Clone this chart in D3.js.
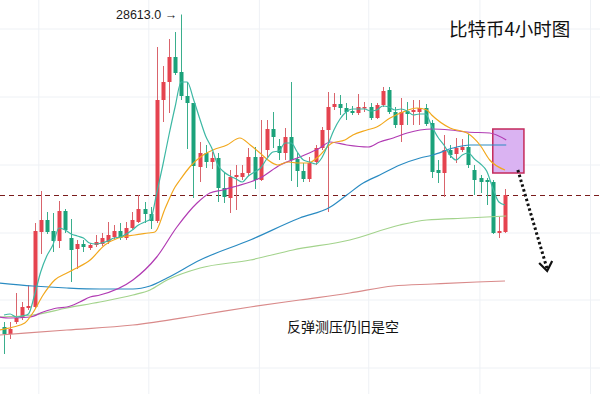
<!DOCTYPE html>
<html>
<head>
<meta charset="utf-8">
<script src="https://cdn.jsdelivr.net/npm/d3@7"></script>
<style>
  html, body { margin: 0; padding: 0; background: #fff; }
  svg { display: block; }
</style>
</head>
<body>
<script>
// 4h candles (price units)
var opens = [26738,26696,26768,26792,26852,26858,27308,27380,27314,27254,
  27434,27272,27206,27236,27212,27230,27236,27248,27278,27314,
  27272,27332,27368,27446,27416,27374,28100,28208,28358,28268,
  28124,28082,27698,27782,27728,27752,27572,27512,27638,27638,
  27662,27758,27620,27800,27926,27824,27782,27878,27746,27674,
  27626,27728,27812,27920,28058,28076,28052,28034,28022,28052,
  28058,27992,28070,28160,28028,27950,28034,28028,28028,28052,
  27962,27680,27662,27800,27776,27800,27818,27680,27632,27620,
  27608,27302,27308];
var closes = [26696,26726,26792,26858,26864,27314,27380,27308,27254,27434,
  27320,27200,27236,27218,27230,27248,27272,27290,27314,27272,
  27332,27380,27446,27416,27374,28100,28208,28358,28262,28124,
  28082,27704,27782,27728,27752,27572,27518,27638,27650,27662,
  27758,27620,27758,27926,27878,27782,27878,27740,27674,27626,
  27722,27812,27920,28058,28076,28052,28028,28022,28058,28058,
  27992,28070,28154,28028,27950,28028,28016,28040,28052,27956,
  27668,27662,27800,27770,27812,27818,27710,27620,27608,27608,
  27302,27314,27530];
var highs = [26768,26768,26942,26888,26990,27362,27554,27428,27422,27494,
  27446,27386,27260,27260,27242,27290,27302,27368,27350,27362,
  27368,27428,27530,27488,27458,28418,28304,28466,28508,28613,
  28208,28082,27848,27830,27788,27782,27662,27680,27710,27710,
  27812,27818,27980,27980,28028,27866,27932,28208,27782,27722,
  27758,27830,27938,28148,28142,28130,28082,28064,28136,28088,
  28082,28082,28178,28178,28058,28112,28088,28100,28100,28076,
  27980,27740,27890,27830,27872,27866,27896,27710,27650,27632,
  27620,27398,27566];
var lows = [26576,26666,26756,26780,26840,26852,27176,27296,27188,27212,
  27302,27008,27086,27188,27200,27218,27224,27236,27266,27260,
  27260,27326,27362,27362,27326,27362,27968,28022,28250,28100,
  27806,27512,27608,27692,27686,27488,27482,27422,27440,27620,
  27644,27566,27614,27758,27812,27740,27740,27614,27578,27608,
  27608,27710,27800,27428,28040,28010,27980,28010,28010,28028,
  27980,27986,28058,28016,27932,27848,27950,27950,27950,27944,
  27632,27602,27518,27752,27722,27788,27692,27530,27542,27470,
  27296,27272,27302];

// fast moving average, one value per candle
var ma5 = [26810,26816,26798,26804,26816,26930,27068,27164,27230,27332,
  27320,27296,27284,27272,27242,27236,27242,27254,27272,27278,
  27296,27320,27350,27368,27386,27542,27710,27890,28058,28208,
  28208,28106,27992,27884,27812,27710,27668,27644,27626,27608,
  27644,27668,27692,27746,27788,27794,27842,27842,27788,27740,
  27728,27716,27752,27830,27920,27986,28028,28046,28046,28046,
  28034,28040,28064,28058,28040,28046,28034,28010,28016,28016,
  27944,27878,27830,27770,27740,27770,27782,27746,27716,27674,
  27572,27488,27470];

// slower averages, [candle index, price]
var maOrange = [[-0.7,26720],[1.5,26738],[3.4,26762],[4.7,26822],[6.4,26930],[8.3,27020],
  [10.3,27062],[11.9,27092],[14.1,27140],[16.5,27230],[18.7,27272],[21.4,27290],
  [23.6,27302],[24.7,27308],[26.4,27452],[28,27578],[28.8,27620],[30.4,27698],
  [32.6,27770],[34.2,27800],[36.5,27830],[38.6,27872],[40.3,27830],[41.9,27782],
  [43.2,27740],[44.8,27710],[46.5,27728],[48.1,27722],[49.8,27722],[51.4,27758],
  [53.7,27842],[55.8,27860],[57.1,27890],[59.4,27920],[61,27938],[63.2,27992],
  [65.3,28028],[67.6,28052],[69.2,28040],[70,28010],[73,27932],[75.8,27902],
  [77.9,27830],[79.5,27740],[82,27680]];
var maPurple = [[-0.7,26798],[1,26792],[4.3,26798],[6.4,26828],[8.7,26852],[10.3,26858],
  [12.4,26888],[14.1,26918],[15.7,26930],[21.1,27020],[25,27158],[28.3,27338],
  [31.6,27482],[33.7,27542],[35.8,27560],[38.1,27584],[40.3,27608],[41.9,27632],
  [45.2,27710],[48.4,27758],[51.7,27812],[53.4,27848],[56.1,27830],[59.6,27818],
  [61.5,27848],[63.7,27872],[66,27902],[68.1,27920],[70.2,27926],[73,27920],
  [75.8,27908],[79.5,27902],[82.2,27860]];
var maBlue = [[-0.7,27002],[4.7,26984],[10.3,26972],[15.7,26966],[21.1,26966],[23.9,26984],
  [26.7,27032],[32.1,27140],[40.3,27260],[48.4,27392],[53.4,27458],[56.1,27530],
  [58.8,27602],[61.5,27650],[64.8,27710],[68.1,27752],[70.2,27770],[73.5,27812],
  [76.3,27830],[79.1,27830],[82.2,27830]];
var maLightGreen = [[-0.7,26798],[4.7,26810],[10.3,26852],[15.7,26888],[21.1,26930],
  [23.9,26960],[26.7,27020],[32.1,27092],[40.3,27140],[47.3,27200],[56.6,27260],
  [64.8,27350],[69.2,27380],[75.8,27392],[82.2,27404]];
var maPink = [[-0.7,26690],[10.3,26720],[21.1,26750],[32.1,26810],[40.3,26858],
  [48.4,26900],[56.6,26942],[63.7,26984],[70.2,26996],[77.4,27008],[82,27014]];

// grid positions (candle index / price)
var gridIdx = [5.7, 23.7, 41.8, 59.7, 77.9, 96];
var gridPrices = [28526, 28118, 27710, 27302, 26900, 26492];

// resistance box and projected move
var zone = { from: 80, to: 85.1, top: 27926, bottom: 27662 };
var arrowFrom = [84.1, 27680],
    arrowTo = [88.9, 27074];

var title = "比特币4小时图",
    note = "反弹测压仍旧是空";

var width = 600, height = 394;

var svg = d3.select("body").append("svg")
    .attr("width", width)
    .attr("height", height);

var x = d3.scaleLinear().domain([0, 82]).range([4, 505]);
var y = d3.scaleLinear().domain([26336, 28700]).range([height, 0]);

// grid
svg.append("g").selectAll("line").data(gridIdx).enter().append("line")
    .attr("x1", d => x(d)).attr("x2", d => x(d))
    .attr("y1", 0).attr("y2", height)
    .attr("stroke", "#eef1f5").attr("stroke-width", 1);
svg.append("g").selectAll("line").data(gridPrices).enter().append("line")
    .attr("x1", 0).attr("x2", width)
    .attr("y1", d => y(d)).attr("y2", d => y(d))
    .attr("stroke", "#eef1f5").attr("stroke-width", 1);

// last price dashed line
var last = closes[closes.length - 1];
svg.append("line")
    .attr("x1", 0).attr("x2", width)
    .attr("y1", Math.round(y(last)) + 0.5).attr("y2", Math.round(y(last)) + 0.5)
    .attr("stroke", "#7a1c1c").attr("stroke-width", 1.1)
    .attr("stroke-dasharray", "5,4");

// resistance box
svg.append("rect")
    .attr("x", x(zone.from)).attr("y", y(zone.top))
    .attr("width", x(zone.to) - x(zone.from))
    .attr("height", y(zone.bottom) - y(zone.top))
    .attr("fill", "#dab3f2")
    .attr("stroke", "#c42a5c").attr("stroke-width", 1.5);

// candles
var up = "#e5434f", down = "#1ba27a";
var candles = svg.append("g").selectAll("g").data(d3.range(opens.length)).enter().append("g");
candles.append("line")
    .attr("x1", i => Math.round(x(i)) + 0.5).attr("x2", i => Math.round(x(i)) + 0.5)
    .attr("y1", i => y(highs[i])).attr("y2", i => y(lows[i]))
    .attr("stroke", i => closes[i] >= opens[i] ? "#d9646c" : "#3aae8c")
    .attr("stroke-width", 1);
candles.append("rect")
    .attr("x", i => Math.round(x(i)) - 1.5)
    .attr("width", 4)
    .attr("y", i => y(Math.max(opens[i], closes[i])))
    .attr("height", i => Math.max(1.5, Math.abs(y(opens[i]) - y(closes[i]))))
    .attr("fill", i => closes[i] >= opens[i] ? up : down);

// moving averages
var smooth = d3.line()
    .x(d => x(d[0])).y(d => y(d[1]))
    .curve(d3.curveMonotoneX);

function drawLine(data, color, w) {
    svg.append("path")
        .datum(data)
        .attr("d", smooth)
        .attr("fill", "none")
        .attr("stroke", color)
        .attr("stroke-width", w);
}

drawLine(maPink, "#d98a8a", 1.2);
drawLine(maLightGreen, "#a3d38c", 1.2);
drawLine(maBlue, "#2a8bc2", 1.2);
drawLine(maPurple, "#b13bb3", 1.2);
drawLine(maOrange, "#f2a81d", 1.2);
drawLine(ma5.map((v, i) => [i, v]), "#3db8a4", 1.2);

// max label
var hiIdx = d3.maxIndex(highs);
svg.append("text")
    .attr("x", x(hiIdx) - 4)
    .attr("y", y(highs[hiIdx]) + 4)
    .attr("text-anchor", "end")
    .attr("font-family", "Liberation Sans, Arial, sans-serif")
    .attr("font-size", 12.5)
    .attr("fill", "#1b1b1b")
    .text(d3.format(".1f")(highs[hiIdx]) + " →");

// dotted projection arrow
svg.append("line")
    .attr("x1", x(arrowFrom[0])).attr("y1", y(arrowFrom[1]))
    .attr("x2", x(arrowTo[0])).attr("y2", y(arrowTo[1]) - 2)
    .attr("stroke", "#111").attr("stroke-width", 3)
    .attr("stroke-dasharray", "2.5,2.5");
var tx = x(arrowTo[0]), ty = y(arrowTo[1]);
svg.append("path")
    .attr("d", "M" + (tx - 8) + "," + (ty - 8) + "L" + tx + "," + ty + "L" + (tx + 5) + "," + (ty - 10))
    .attr("fill", "none")
    .attr("stroke", "#111").attr("stroke-width", 2.2);

// texts
svg.append("text")
    .attr("x", 449).attr("y", 36)
    .attr("font-family", "Noto Sans CJK SC, sans-serif")
    .attr("font-size", 18.5)
    .attr("fill", "#111")
    .text(title);

svg.append("text")
    .attr("x", 287).attr("y", 332)
    .attr("font-family", "Noto Sans CJK SC, sans-serif")
    .attr("font-size", 14)
    .attr("fill", "#111")
    .text(note);
</script>
</body>
</html>
